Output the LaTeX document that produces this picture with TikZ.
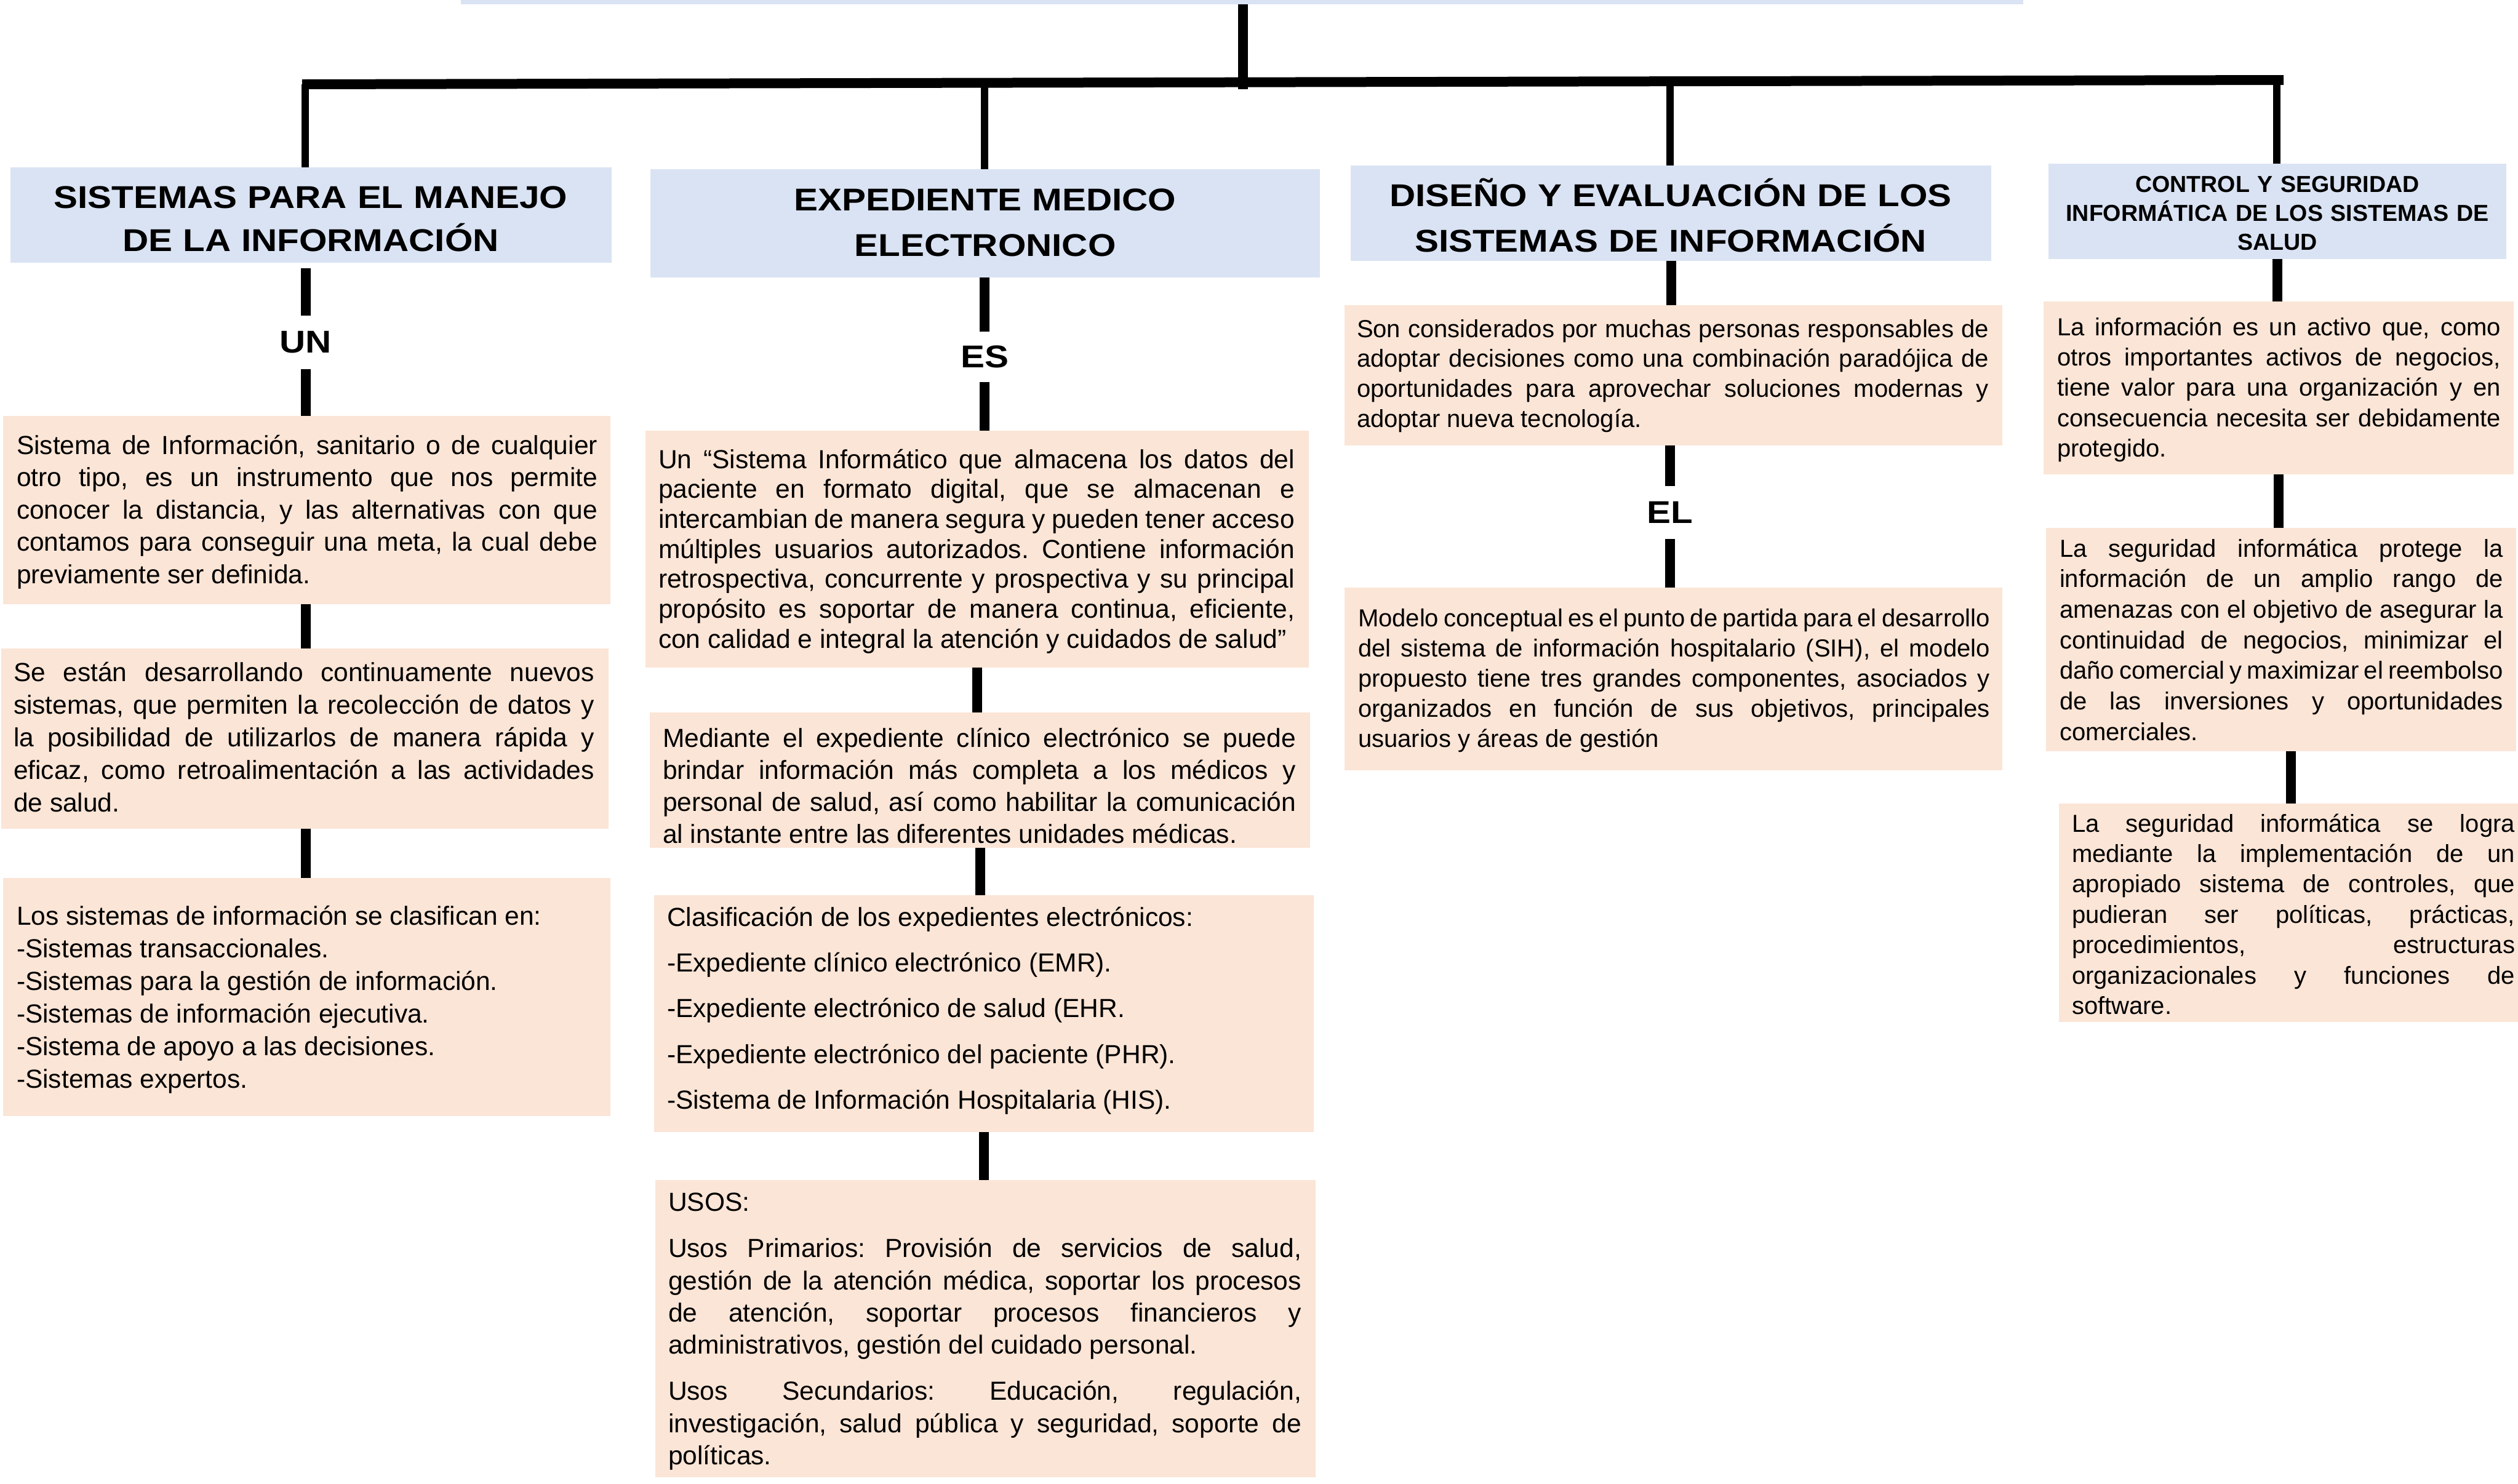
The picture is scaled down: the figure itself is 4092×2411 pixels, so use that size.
\documentclass[tikz,border=0pt]{standalone}
\usepackage{fontspec}
\setmainfont{Liberation Sans}
\newfontfamily\hdfont[FakeStretch=1.14]{Liberation Sans}
\definecolor{hdblue}{HTML}{DAE3F3}
\definecolor{peach}{HTML}{FBE5D6}
\setlength\parskip{0pt}
\setlength\parindent{0pt}
\frenchspacing
\newcommand\jl[1]{\unskip\noindent\hbox to \hsize{\spaceskip=0.278em plus 1fil minus 0.1em\xspaceskip=0pt#1}\par}
\newcommand\lastl[1]{\unskip\noindent\hbox to \hsize{\spaceskip=0pt\xspaceskip=0pt#1\hfil}\par}
\newcommand\bx[6]{\node[#2, minimum width={(#5-#3)*0.25pt}, minimum height={(#6-#4)*0.25pt}] (#1) at ({(#3+#5)/2},{(#4+#6)/2}) {};}
\begin{document}
\begin{tikzpicture}[x=0.25pt,y=-0.25pt,
 hdbox/.style={fill=hdblue, draw=none, inner sep=0pt, outer sep=0pt},
 bodybox/.style={fill=peach, draw=none, inner sep=0pt, outer sep=0pt},
 conn/.style={line width=4pt, draw=black},
 drop/.style={line width=3pt, draw=black},
 txt/.style={inner sep=0pt, outer sep=0pt, anchor=base west},
 hdtxt/.style={inner sep=0pt, outer sep=0pt, anchor=base, align=center},
 lbl/.style={inner sep=0pt, outer sep=0pt, font=\hdfont\bfseries\fontsize{12.8pt}{15pt}\selectfont},
]
\fill[white] (0,0) rectangle (4092,2411);
\useasboundingbox (0,0) rectangle (4092,2411);

% boxes
\bx{title}{hdbox}{749}{-80}{3288}{7}
\bx{h1}{hdbox}{17}{272}{994}{427}
\bx{h2}{hdbox}{1057}{275}{2145}{451}
\bx{h3}{hdbox}{2195}{269}{3236}{424}
\bx{h4}{hdbox}{3329}{266}{4073}{421}
\bx{b1a}{bodybox}{5}{676}{992}{982}
\bx{b1b}{bodybox}{2}{1054}{989}{1347}
\bx{b1c}{bodybox}{5}{1427}{992}{1814}
\bx{b2a}{bodybox}{1049}{700}{2127}{1085}
\bx{b2b}{bodybox}{1056}{1158}{2129}{1378}
\bx{b2c}{bodybox}{1063}{1455}{2135}{1840}
\bx{b2d}{bodybox}{1065}{1918}{2138}{2401}
\bx{b3a}{bodybox}{2185}{496}{3254}{724}
\bx{b3b}{bodybox}{2185}{955}{3254}{1252}
\bx{b4a}{bodybox}{3321}{490}{4085}{771}
\bx{b4b}{bodybox}{3325}{858}{4089}{1221}
\bx{b4c}{bodybox}{3346}{1306}{4100}{1661}

% labels
\node[lbl, minimum height=21.75pt] (un) at (497,556.5) {UN};
\node[lbl, minimum height=20.5pt] (es) at (1600,580) {ES};
\node[lbl, minimum height=21.5pt] (el) at (2714,833) {EL};

% tree
\coordinate (jt) at (2020,145);
\coordinate (barL) at (491,137);
\coordinate (barR) at (3711,130);
\coordinate (j1) at (496,137);
\coordinate (j2) at (1600,134.6);
\coordinate (j3) at (2714,132.2);
\coordinate (j4) at (3700,130);
\draw[conn] (title.south -| jt) -- (jt);
\draw[conn] (barL) -- (barR);
\draw[drop] (j1) -- (j1 |- h1.north);
\draw[drop] (j2) -- (j2 |- h2.north);
\draw[drop] (j3) -- (j3 |- h3.north);
\draw[drop] (j4) -- (j4 |- h4.north);

% column connectors
\draw[conn, shorten <=2.25pt] (h1.south -| un) -- (un.north);
\draw[conn] (un.south) -- (un.south |- b1a.north);
\draw[conn] (b1a.south -| un) -- (b1b.north -| un);
\draw[conn] (b1b.south -| un) -- (b1c.north -| un);

\draw[conn] (h2.south -| es) -- (es.north);
\draw[conn] (es.south) -- (es.south |- b2a.north);
\draw[conn] (b2a.south) -- (b2a.south |- b2b.north);
\draw[conn] (b2b.south) -- (b2b.south |- b2c.north);
\draw[conn] (b2c.south) -- (b2c.south |- b2d.north);

\draw[conn] (h3.south) -- (h3.south |- b3a.north);
\draw[conn] (b3a.south -| el) -- (el.north);
\draw[conn] (el.south) -- (el.south |- b3b.north);

\draw[conn] (h4.south) -- (h4.south |- b4a.north);
\draw[conn] (b4a.south) -- (b4a.south |- b4b.north);
\draw[conn] (b4c.north |- b4b.south) -- (b4c.north);

% header texts
\node[hdtxt, text width=244pt, font=\hdfont\bfseries\fontsize{12.8pt}{17.5pt}\selectfont] (h1t) at (505,338) {SISTEMAS PARA EL MANEJO\\DE LA INFORMACIÓN};
\node[hdtxt, text width=272pt, font=\hdfont\bfseries\fontsize{12.8pt}{18.5pt}\selectfont] (h2t) at (1601,342) {EXPEDIENTE MEDICO\\ELECTRONICO};
\node[hdtxt, text width=260pt, font=\hdfont\bfseries\fontsize{12.8pt}{18.5pt}\selectfont] (h3t) at (2715,335) {DISEÑO Y EVALUACIÓN DE LOS\\SISTEMAS DE INFORMACIÓN};
\node[hdtxt, text width=186pt, font=\bfseries\fontsize{9.4pt}{11.75pt}\selectfont] (h4t) at (3701,312) {CONTROL Y SEGURIDAD\\INFORMÁTICA DE LOS SISTEMAS DE\\SALUD};

% column 1 texts
\node[txt, text width=236pt, font=\fontsize{10.625pt}{13.125pt}\selectfont] (t1a) at (27,738) {%
\jl{Sistema de Información, sanitario o de cualquier}%
\jl{otro tipo, es un instrumento que nos permite}%
\jl{conocer la distancia, y las alternativas con que}%
\jl{contamos para conseguir una meta, la cual debe}%
\lastl{previamente ser definida.}};
\node[txt, text width=236pt, font=\fontsize{10.625pt}{13.25pt}\selectfont] (t1b) at (22,1107) {%
\jl{Se están desarrollando continuamente nuevos}%
\jl{sistemas, que permiten la recolección de datos y}%
\jl{la posibilidad de utilizarlos de manera rápida y}%
\jl{eficaz, como retroalimentación a las actividades}%
\lastl{de salud.}};
\node[txt, text width=236pt, font=\fontsize{10.625pt}{13.25pt}\selectfont] (t1c) at (27,1503) {%
\lastl{Los sistemas de información se clasifican en:}%
\lastl{-Sistemas transaccionales.}%
\lastl{-Sistemas para la gestión de información.}%
\lastl{-Sistemas de información ejecutiva.}%
\lastl{-Sistema de apoyo a las decisiones.}%
\lastl{-Sistemas expertos.}};

% column 2 texts
\node[txt, text width=258.5pt, font=\fontsize{10.625pt}{12.18pt}\selectfont] (t2a) at (1070,761) {%
\jl{Un “Sistema Informático que almacena los datos del}%
\jl{paciente en formato digital, que se almacenan e}%
\jl{intercambian de manera segura y pueden tener acceso}%
\jl{múltiples usuarios autorizados. Contiene información}%
\jl{retrospectiva, concurrente y prospectiva  y su principal}%
\jl{propósito es soportar de manera continua, eficiente,}%
\lastl{con calidad e integral la atención y cuidados de salud”}};
\node[txt, text width=257.25pt, font=\fontsize{10.625pt}{13pt}\selectfont] (t2b) at (1077,1214) {%
\jl{Mediante el expediente clínico electrónico se puede}%
\jl{brindar información más completa a los médicos y}%
\jl{personal de salud, así como habilitar la comunicación}%
\lastl{al instante entre las diferentes unidades médicas.}};
\node[txt, text width=257.5pt, font=\fontsize{10.625pt}{18.6pt}\selectfont] (t2c) at (1084,1505) {%
\lastl{Clasificación de los expedientes electrónicos:}%
\lastl{-Expediente clínico electrónico (EMR).}%
\lastl{-Expediente electrónico de salud (EHR.}%
\lastl{-Expediente electrónico del paciente (PHR).}%
\lastl{-Sistema de Información Hospitalaria (HIS).}};
\node[txt, text width=257.25pt, font=\fontsize{10.625pt}{13.1pt}\selectfont] (t2d) at (1086,1968) {%
\lastl{USOS:}\vspace{5.8pt}%
\jl{Usos Primarios: Provisión de servicios de salud,}%
\jl{gestión de la atención médica, soportar los procesos}%
\jl{de atención, soportar procesos financieros y}%
\lastl{administrativos, gestión del cuidado personal.}\vspace{5.6pt}%
\jl{Usos Secundarios: Educación, regulación,}%
\jl{investigación, salud pública y seguridad, soporte de}%
\lastl{políticas.}};

% column 3 texts
\node[txt, text width=256.75pt, font=\fontsize{10pt}{12.2pt}\selectfont] (t3a) at (2205,548) {%
\jl{Son considerados por muchas personas responsables de}%
\jl{adoptar decisiones como una combinación paradójica de}%
\jl{oportunidades para aprovechar soluciones modernas y}%
\lastl{adoptar nueva tecnología.}};
\node[txt, text width=256.75pt, font=\fontsize{10pt}{12.25pt}\selectfont] (t3b) at (2207,1018) {%
\jl{Modelo conceptual es el punto de partida para el desarrollo}%
\jl{del sistema de información hospitalario (SIH), el modelo}%
\jl{propuesto tiene tres grandes componentes, asociados y}%
\jl{organizados en función de sus objetivos, principales}%
\lastl{usuarios y áreas de gestión}};

% column 4 texts
\node[txt, text width=180.25pt, font=\fontsize{10pt}{12.35pt}\selectfont] (t4a) at (3343,545) {%
\jl{La información es un activo que, como}%
\jl{otros importantes activos de negocios,}%
\jl{tiene valor para una organización y en}%
\jl{consecuencia necesita ser debidamente}%
\lastl{protegido.}};
\node[txt, text width=180.25pt, font=\fontsize{10pt}{12.42pt}\selectfont] (t4b) at (3347,905) {%
\jl{La seguridad informática protege la}%
\jl{información de un amplio rango de}%
\jl{amenazas con el objetivo de asegurar la}%
\jl{continuidad de negocios, minimizar el}%
\jl{daño comercial y maximizar el reembolso}%
\jl{de las inversiones y oportunidades}%
\lastl{comerciales.}};
\node[txt, text width=180pt, font=\fontsize{10pt}{12.37pt}\selectfont] (t4c) at (3367,1352) {%
\jl{La seguridad informática se logra}%
\jl{mediante la implementación de un}%
\jl{apropiado sistema de controles, que}%
\jl{pudieran ser políticas, prácticas,}%
\jl{procedimientos, estructuras}%
\jl{organizacionales y funciones de}%
\lastl{software.}};
\end{tikzpicture}
\end{document}
